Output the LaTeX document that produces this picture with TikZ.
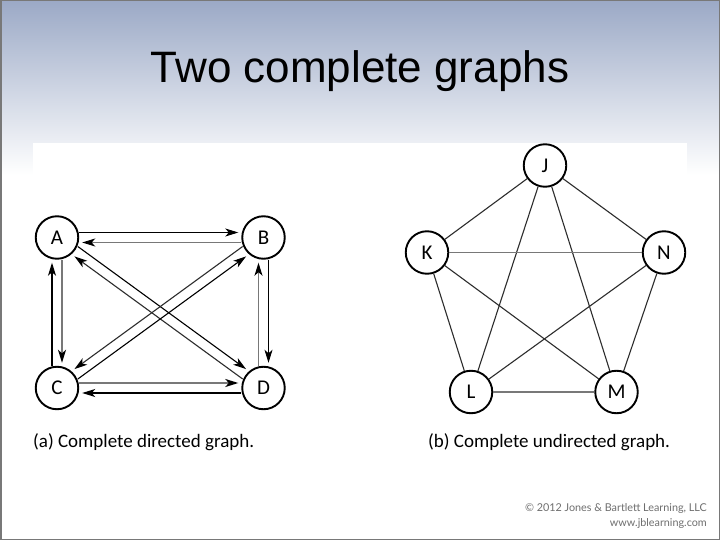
\documentclass[tikz,border=0pt]{standalone}
\usepackage{fontspec}
\setmainfont{Liberation Sans}
\newfontfamily\capfont{Carlito}
\newfontfamily\copyfont{Lato}
\usetikzlibrary{arrows.meta}
\definecolor{topblue}{RGB}{155,169,198}
\definecolor{framegray}{RGB}{120,120,120}
\definecolor{linegray}{RGB}{120,120,120}
\definecolor{linedark}{RGB}{45,45,45}
\definecolor{copygray}{RGB}{110,110,110}
\begin{document}
\begin{tikzpicture}[x=1pt,y=-1pt,
  vert/.style={circle,draw=black,line width=1.9pt,minimum size=42.5pt,inner sep=0pt,font=\capfont\fontsize{21}{21}\selectfont},
  darr/.style={line width=1.1pt,-{Stealth[length=13pt,width=8pt,inset=3.5pt,color=black]},shorten >=3pt},
  blk/.style={draw=black},
  gry/.style={draw=linegray,line width=1.6pt},
  dgr/.style={draw=linedark},
  und/.style={draw=linedark,line width=1.1pt},
  undg/.style={draw=linegray,line width=1.4pt},
  captext/.style={anchor=base west,inner sep=0pt,font=\capfont\fontsize{19}{19}\selectfont},
  off/.style={transform canvas={shift={#1}}}
]
\useasboundingbox (0,0) rectangle (720,540);
\fill[white] (0,0) rectangle (720,540);
\shade[top color=topblue,bottom color=white] (0,0) rectangle (720,175);
\fill[white] (33,143) rectangle (687,470);
\draw[framegray,line width=1.5pt] (0.75,0.75) rectangle (719.25,539.25);

\node[anchor=base,inner sep=0pt,font=\fontsize{44}{44}\selectfont] (title) at (360,83) {Two complete graphs};

% directed graph
\node[vert] (A) at (57,237.5) {A};
\node[vert] (B) at (263.5,237.5) {B};
\node[vert] (C) at (57,388) {C};
\node[vert] (D) at (263.5,388) {D};

\draw[darr,blk,off={(0pt,5pt)}] (A) -- (B);
\draw[darr,gry,off={(0pt,-5pt)}] (B) -- (A);
\draw[darr,blk,off={(-5pt,0pt)}] (C) -- (A);
\draw[darr,gry,off={(5pt,0pt)}] (A) -- (C);
\draw[darr,blk,off={(5pt,0pt)}] (B) -- (D);
\draw[darr,gry,off={(-5pt,0pt)}] (D) -- (B);
\draw[darr,gry,off={(0pt,5pt)}] (C) -- (D);
\draw[darr,blk,off={(0pt,-5pt)}] (D) -- (C);
\draw[darr,blk,off={(2.9pt,4.05pt)}] (A) -- (D);
\draw[darr,dgr,off={(-2.9pt,-4.05pt)}] (D) -- (A);
\draw[darr,dgr,off={(-2.95pt,4.05pt)}] (B) -- (C);
\draw[darr,blk,off={(2.95pt,-4.05pt)}] (C) -- (B);

% undirected graph
\node[vert] (J) at (545,165.5) {J};
\node[vert] (K) at (427,252.5) {K};
\node[vert] (N) at (664,252.5) {N};
\node[vert] (L) at (471,392) {L};
\node[vert] (M) at (616.5,392) {M};

\draw[und] (J) -- (K);
\draw[und] (J) -- (N);
\draw[und] (J) -- (L);
\draw[und] (J) -- (M);
\draw[undg] (K) -- (N);
\draw[und] (K) -- (L);
\draw[und] (K) -- (M);
\draw[und] (N) -- (L);
\draw[und] (N) -- (M);
\draw[undg] (L) -- (M);

\node[captext] (capa) at (33,447) {(a) Complete directed graph.};
\node[captext] (capb) at (428,447) {(b) Complete undirected graph.};

\node[anchor=base east,inner sep=0pt,text=copygray,font=\copyfont\fontsize{10.8}{10.8}\selectfont] (copy1) at (707,511) {© 2012 Jones \& Bartlett Learning, LLC};
\node[anchor=base east,inner sep=0pt,text=copygray,font=\copyfont\fontsize{10.8}{10.8}\selectfont] (copy2) at (707,526) {www.jblearning.com};
\end{tikzpicture}
\end{document}
